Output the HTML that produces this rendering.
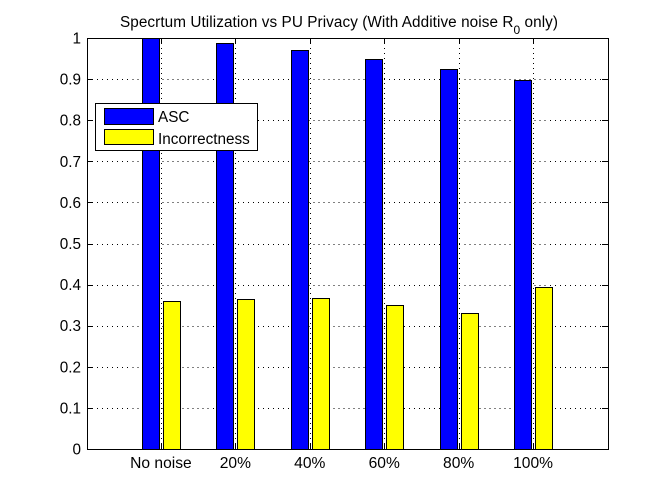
<!DOCTYPE html>
<html>
<head>
<meta charset="utf-8">
<title>Spectrum Utilization vs PU Privacy</title>
<style>
html,body{margin:0;padding:0;background:#fff;}
svg{display:block;}
text{font-family:"Liberation Sans",sans-serif;font-size:15.3px;fill:#000;}
</style>
</head>
<body>
<svg id="chart" width="672" height="504" viewBox="0 0 672 504" xmlns="http://www.w3.org/2000/svg">
<rect x="0" y="0" width="672" height="504" fill="#fff"/>
<g id="grid"></g>
<g id="bars"></g>
<g id="axes"></g>
<text x="120" y="27" textLength="438">Specrtum Utilization vs PU Privacy (With Additive noise R<tspan font-size="12" dy="7">0</tspan><tspan dy="-7"> only)</tspan></text>
<g>
<rect x="95.5" y="103.5" width="162" height="47" fill="#fff" stroke="#000" stroke-width="1" shape-rendering="crispEdges"/>
<rect x="104.5" y="108.5" width="49" height="16" fill="#0000ff" stroke="#000" stroke-width="1" shape-rendering="crispEdges"/>
<text x="158" y="122">ASC</text>
<rect x="104.5" y="129.5" width="49" height="15" fill="#ffff00" stroke="#000" stroke-width="1" shape-rendering="crispEdges"/>
<text x="158" y="144">Incorrectness</text>
</g>
</svg>
<script>
const categories = ["No noise", "20%", "40%", "60%", "80%", "100%"];
const ascValues = [1.0, 0.987, 0.97, 0.949, 0.925, 0.897];
const incorrectnessValues = [0.359, 0.364, 0.367, 0.35, 0.33, 0.394];
const yTickLabels = ["0", "0.1", "0.2", "0.3", "0.4", "0.5", "0.6", "0.7", "0.8", "0.9", "1"];
const yTickValues = [0, 0.1, 0.2, 0.3, 0.4, 0.5, 0.6, 0.7, 0.8, 0.9, 1];

const NS = "http://www.w3.org/2000/svg";
const plotLeft = 87, plotRight = 608, plotTop = 38, plotBottom = 449;
const xMax = categories.length + 1;
function xScale(v) { return plotLeft + (v / xMax) * (plotRight - plotLeft); }
function yScale(v) { return plotBottom - v * (plotBottom - plotTop); }
function make(tag, attrs, parent) {
  const el = document.createElementNS(NS, tag);
  for (const k in attrs) el.setAttribute(k, attrs[k]);
  parent.appendChild(el);
  return el;
}
function crispX(v) { return Math.floor(v) + 0.5; }
function crispY(v) { return Math.round(v) + 0.5; }

const gridG = document.getElementById("grid");
const barsG = document.getElementById("bars");
const axesG = document.getElementById("axes");
const lineStyle = { stroke: "#000", "stroke-width": 1, "shape-rendering": "crispEdges" };

yTickValues.forEach(function (v, i) {
  const y = crispY(yScale(v));
  if (v > 0 && v < 1) {
    const g = make("line", Object.assign({ x1: plotLeft, x2: plotRight, y1: y, y2: y, "stroke-dasharray": "1 4.03" }, lineStyle), gridG);
    
    
  }
  const t1 = make("line", Object.assign({ x1: plotLeft, x2: plotLeft + 6, y1: y, y2: y }, lineStyle), axesG);
  
  
  const t2 = make("line", Object.assign({ x1: plotRight - 6, x2: plotRight, y1: y, y2: y }, lineStyle), axesG);
  
  
  const label = make("text", { x: 81, y: yScale(v) + 5.5, "text-anchor": "end" }, axesG);
  label.textContent = yTickLabels[i];
  
  
});

const barUnitWidth = 0.2284, blueLeftOffset = -0.255, yellowLeftOffset = 0.027;
categories.forEach(function (name, i) {
  const pos = i + 1;
  const x = crispX(xScale(pos));
  const g = make("line", Object.assign({ x1: x, x2: x, y1: plotBottom, y2: plotTop, "stroke-dasharray": "1 4" }, lineStyle), gridG);
  
  

  const t1 = make("line", Object.assign({ x1: x, x2: x, y1: plotBottom - 6, y2: plotBottom }, lineStyle), axesG);
  
  
  const t2 = make("line", Object.assign({ x1: x, x2: x, y1: plotTop, y2: plotTop + 6 }, lineStyle), axesG);
  
  

  const label = make("text", { x: xScale(pos) - 0.5, y: 468, "text-anchor": "middle", "font-size": "15.6", style: "font-size:15.6px" }, axesG);
  label.textContent = name;
  
  

  const barW = Math.round(xScale(barUnitWidth) - xScale(0));
  const ax = crispX(xScale(pos + blueLeftOffset));
  const ay = crispY(yScale(ascValues[i]));
  const blue = make("rect", { x: ax, y: ay, width: barW, height: Math.max(0, crispY(yScale(0)) - ay), fill: "#0000ff", stroke: "#000", "stroke-width": 1, "shape-rendering": "crispEdges" }, barsG);
  
  

  const yx = crispX(xScale(pos + yellowLeftOffset));
  const yy = crispY(yScale(incorrectnessValues[i]));
  const yellow = make("rect", { x: yx, y: yy, width: barW, height: Math.max(0, crispY(yScale(0)) - yy), fill: "#ffff00", stroke: "#000", "stroke-width": 1, "shape-rendering": "crispEdges" }, barsG);
  
  
});

const frame = make("rect", { x: plotLeft + 0.5, y: plotTop + 0.5, width: plotRight - plotLeft, height: plotBottom - plotTop, fill: "none", stroke: "#000", "stroke-width": 1, "shape-rendering": "crispEdges" }, axesG);


</script>
</body>
</html>
